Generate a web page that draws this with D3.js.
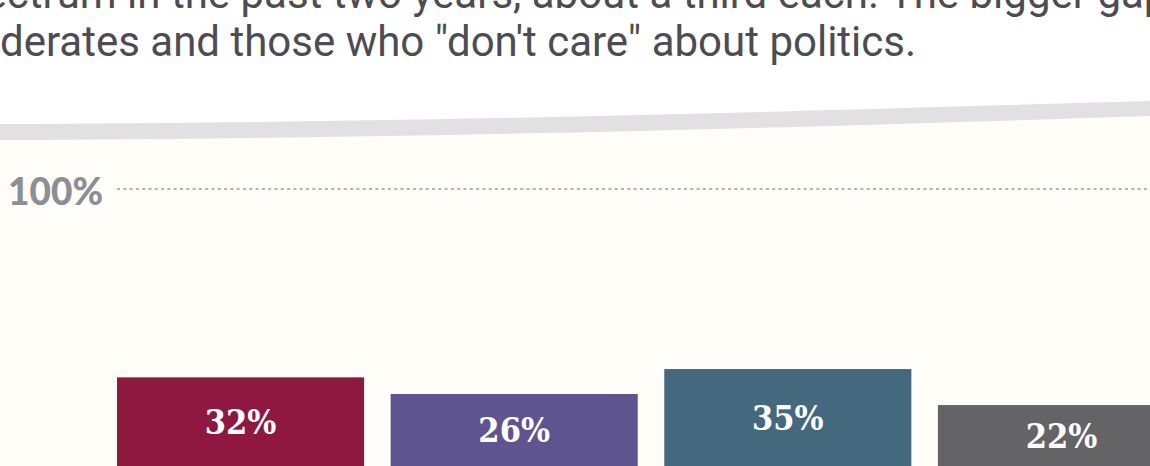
<!DOCTYPE html>
<html>
<head>
<meta charset="utf-8">
<script src="https://cdn.jsdelivr.net/npm/d3@7"></script>
<style>
  html, body { margin: 0; padding: 0; background: #ffffff; overflow: hidden; }
  svg { display: block; }
</style>
</head>
<body>
<svg id="chart" width="1150" height="466"></svg>
<script>
// Data
const groups = ["Liberals", "Moderates", "Conservatives", "Don't care"];
const shares = [32, 26, 35, 22];
const barColors = ["#8e1840", "#5e5490", "#44697e", "#646466"];
const gridTicks = [100];
const introLines = [
  "spectrum in the past two years, about a third each. The bigger gap",
  "moderates and those who \"don't care\" about politics."
];

const width = 1150, height = 466;
const svg = d3.select('#chart');

// Paragraph text above the chart (cropped off on the left, like the original)
const textFont = { family: "Roboto", size: 42, color: "#4c4c51" };
function measure(str) {
  const t = svg.append('text')
    .style('font-family', textFont.family)
    .style('font-size', textFont.size + 'px')
    .text(str);
  const w = t.node().getComputedTextLength();
  t.remove();
  return w;
}
const textX = -measure("mo");
svg.append('g').selectAll('text')
  .data(introLines)
  .join('text')
  .attr('x', textX)
  .attr('y', (d, i) => 8 + i * 48)
  .style('font-family', textFont.family)
  .style('font-size', textFont.size + 'px')
  .style('fill', textFont.color)
  .text(d => d);

// Curved grey band and the cream chart panel under it
svg.append('path')
  .attr('d', `M0,140 C500,138 900,124 ${width},116 L${width},${height} L0,${height} Z`)
  .attr('fill', '#fffdf8');
svg.append('path')
  .attr('d', `M0,124 C500,122 900,108 ${width},101 L${width},116 C900,124 500,138 0,140 Z`)
  .attr('fill', '#e2e0e2');

// Scales
const x = d3.scaleBand()
  .domain(groups)
  .range([117, 1185])
  .paddingInner(0.097)
  .paddingOuter(0);

const y = d3.scaleLinear()
  .domain([0, 100])
  .range([466, 189]);

// 100% reference line
const grid = svg.append('g');
grid.selectAll('line')
  .data(gridTicks)
  .join('line')
  .attr('x1', 117)
  .attr('x2', width)
  .attr('y1', d => y(d))
  .attr('y2', d => y(d))
  .attr('stroke', '#9a9ca1')
  .attr('stroke-width', 1.5)
  .attr('stroke-dasharray', '3,3.3');
grid.selectAll('text')
  .data(gridTicks)
  .join('text')
  .attr('x', 8)
  .attr('y', d => y(d) + 16)
  .style('font-family', 'Lato')
  .style('font-weight', 900)
  .style('font-size', '37px')
  .style('fill', '#8b8e95')
  .text(d => d + '%');

// Bars
const bars = svg.append('g');
bars.selectAll('rect')
  .data(shares)
  .join('rect')
  .attr('x', (d, i) => x(groups[i]))
  .attr('width', x.bandwidth())
  .attr('y', d => y(d))
  .attr('height', d => y(0) - y(d))
  .attr('fill', (d, i) => barColors[i]);

// Value labels, centred inside each bar
bars.selectAll('text')
  .data(shares)
  .join('text')
  .attr('x', (d, i) => x(groups[i]) + x.bandwidth() / 2)
  .attr('y', d => (y(d) + y(0)) / 2)
  .attr('text-anchor', 'middle')
  .attr('dominant-baseline', 'central')
  .style('font-family', '"DejaVu Serif"')
  .style('font-stretch', 'condensed')
  .style('font-weight', 700)
  .style('font-size', '34px')
  .style('fill', '#ffffff')
  .text(d => d + '%');
</script>
</body>
</html>
